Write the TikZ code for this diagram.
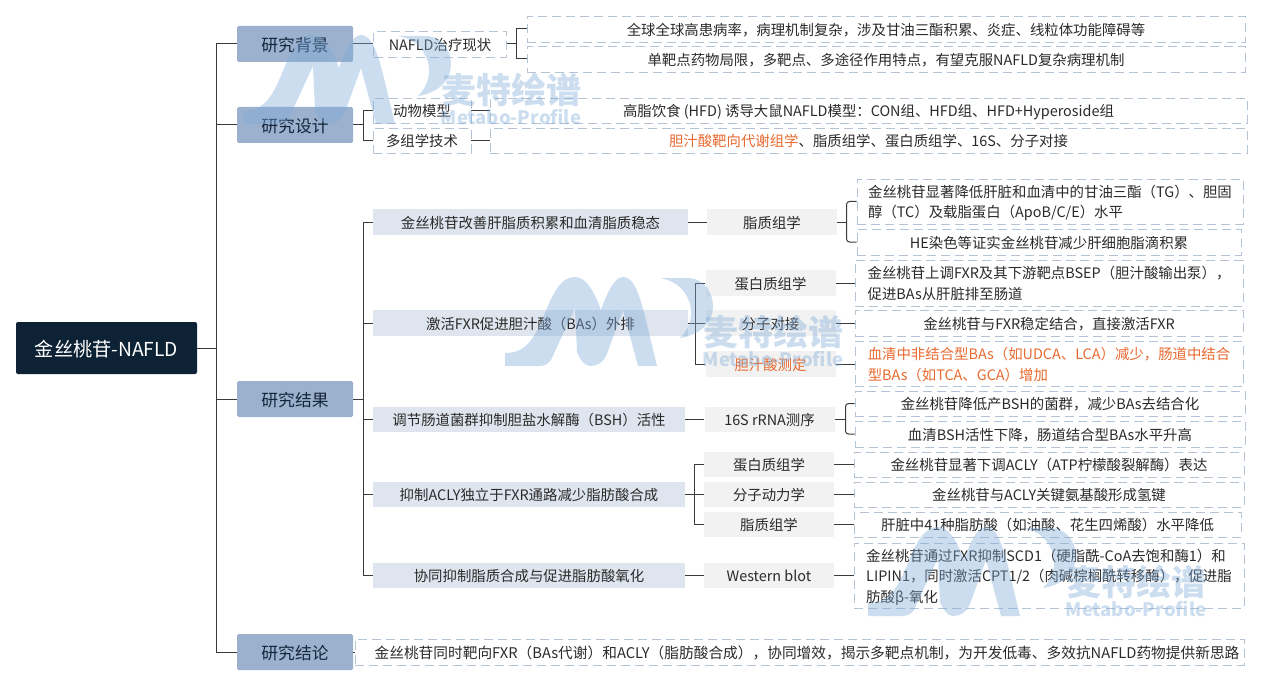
\documentclass[tikz,border=0pt]{standalone}
\usepackage{fontspec}
\setmainfont{Noto Sans CJK SC}
\definecolor{rootfill}{HTML}{0E2236}
\definecolor{secfill}{HTML}{9BB1CE}
\definecolor{secink}{HTML}{14263C}
\definecolor{resfill}{HTML}{DFE5EE}
\definecolor{toolfill}{HTML}{F2F2F2}
\definecolor{dashink}{HTML}{B4C3D5}
\definecolor{textink}{HTML}{2A2A2A}
\definecolor{linkink}{HTML}{3A3A3A}
\definecolor{hilite}{HTML}{E8692E}
\definecolor{wmblue}{HTML}{7DAAD6}
\tikzset{ root/.style = { fill = rootfill
                        , rounded corners = 2pt
                        , text = white
                        , inner sep = 0pt
                        , text depth = 0pt
                        , minimum width = 181pt
                        , minimum height = 52pt
                        , font = \fontsize{19.2}{22}\selectfont
                        },
          sec/.style = { fill = secfill
                       , rounded corners = 1.5pt
                       , text = secink
                       , inner sep = 0pt
                       , text depth = 0pt
                       , minimum width = 116pt
                       , minimum height = 36pt
                       , font = \fontsize{16.8}{20}\selectfont
                       },
          res/.style = { fill = resfill
                       , text = textink
                       , inner sep = 0pt
                       , text depth = 0pt
                       , minimum height = 25.5pt
                       , font = \fontsize{14.4}{20.5}\selectfont
                       },
          tool/.style = { res
                        , fill = toolfill
                        , minimum width = 130pt
                        },
          leaf/.style = { draw = dashink
                        , line width = 0.9pt
                        , dash pattern = on 9pt off 5pt
                        , text = textink
                        , inner sep = 0pt
                        , text depth = 0pt
                        , align = left
                        , font = \fontsize{14.4}{20.5}\selectfont
                        },
          link/.style = { draw = linkink
                        , line width = 1pt
                        },
          wm/.pic = {
              \fill[wmblue, opacity=0.4] (0,0) -- (0,-13)
                  .. controls (22,-13) and (30,-28) .. (42,-58)
                  .. controls (52,-82) and (60,-89) .. (70,-89)
                  .. controls (82,-89) and (90,-72) .. (96,-56)
                  .. controls (103,-76) and (110,-89) .. (118,-89)
                  .. controls (129,-89) and (134,-72) .. (140,-50)
                  -- (152,0) -- (133,0) -- (118,-56) -- (102,-12)
                  .. controls (98,-3) and (92,0) .. (85,0)
                  .. controls (80,0) and (75,-6) .. (72,-14)
                  -- (70,-58) -- (46,-6) .. controls (43,-2) and (40,0) .. (34,0) -- cycle;
              \fill[wmblue, opacity=0.4] (155,-88) -- (182,-88)
                  .. controls (200,-88) and (208,-72) .. (208,-60)
                  .. controls (208,-40) and (190,-30) .. (175,-28)
                  .. controls (185,-38) and (188,-50) .. (185,-62)
                  .. controls (180,-78) and (170,-85) .. (155,-88) -- cycle;
              \node[text=wmblue, text opacity=0.4, inner sep=0pt, font=\fontsize{35}{36}\selectfont\bfseries]
                  (cn) at (268,-34) {麦特绘谱};
              \node[text=wmblue, text opacity=0.4, inner sep=0pt, font=\fontsize{18.5}{20}\selectfont\bfseries]
                  (en) at (268,-7) {Metabo-Profile};
          }
        }
\begin{document}
\begin{tikzpicture}[x=1pt, y=-1pt]
    \useasboundingbox (0,0) rectangle (1263,687);
    \node[root] (root) at (106.5,348) {金丝桃苷-NAFLD};
    %first level
    \node[sec] (bg) at (295,44) {研究背景};
    \node[sec] (dsg) at (295,125) {研究设计};
    \node[sec] (out) at (295,399) {研究结果};
    \node[sec] (con) at (295,652) {研究结论};
    %background and design
    \node[leaf, minimum width=133pt, minimum height=26pt] (nafld) at (440,44) {NAFLD治疗现状};
    \node[leaf, minimum width=718pt, minimum height=26pt] (bg1) at (886,29) {全球全球高患病率，病理机制复杂，涉及甘油三酯积累、炎症、线粒体功能障碍等};
    \node[leaf, minimum width=718pt, minimum height=26pt] (bg2) at (886,59) {单靶点药物局限，多靶点、多途径作用特点，有望克服NAFLD复杂病理机制};
    \node[leaf, minimum width=98pt, minimum height=25pt] (model) at (422,110.5) {动物模型};
    \node[leaf, minimum width=98pt, minimum height=25pt] (omics) at (422,140.5) {多组学技术};
    \node[leaf, minimum width=757pt, minimum height=25pt] (model1) at (868.5,110.5) {高脂饮食 (HFD) 诱导大鼠NAFLD模型：CON组、HFD组、HFD+Hyperoside组};
    \node[leaf, minimum width=757pt, minimum height=25pt] (omics1) at (868.5,140.5) {\textcolor{hilite}{胆汁酸靶向代谢组学}、脂质组学、蛋白质组学、16S、分子对接};
    %results, second level
    \node[res, minimum width=315pt] (r1) at (530.5,222) {金丝桃苷改善肝脂质积累和血清脂质稳态};
    \node[res, minimum width=315pt] (r2) at (530.5,323) {激活FXR促进胆汁酸（BAs）外排};
    \node[res, minimum width=312pt] (r3) at (529,419.5) {调节肠道菌群抑制胆盐水解酶（BSH）活性};
    \node[res, minimum width=312pt] (r4) at (529,494.5) {抑制ACLY独立于FXR通路减少脂肪酸合成};
    \node[res, minimum width=312pt] (r5) at (529,575.5) {协同抑制脂质合成与促进脂肪酸氧化};
    %results, methods
    \node[tool] (t1) at (772,222) {脂质组学};
    \node[tool] (t2) at (770.5,283) {蛋白质组学};
    \node[tool] (t3) at (770.5,323) {分子对接};
    \node[tool, text=hilite] (t4) at (770.5,364) {胆汁酸测定};
    \node[tool] (t5) at (769.5,419.5) {16S rRNA测序};
    \node[tool] (t6) at (769,464.5) {蛋白质组学};
    \node[tool] (t7) at (769,494.5) {分子动力学};
    \node[tool] (t8) at (769,524.5) {脂质组学};
    \node[tool] (t9) at (769,575.5) {Western blot};
    %results, findings
    \node[leaf, minimum width=386pt, minimum height=45pt] (f1) at (1050,201.5) {金丝桃苷显著降低肝脏和血清中的甘油三酯（TG）、胆固\\醇（TC）及载脂蛋白（ApoB/C/E）水平};
    \node[leaf, minimum width=384pt, minimum height=26pt] (f2) at (1049,242) {HE染色等证实金丝桃苷减少肝细胞脂滴积累};
    \node[leaf, minimum width=388pt, minimum height=46pt] (f3) at (1049,283) {金丝桃苷上调FXR及其下游靶点BSEP（胆汁酸输出泵），\\促进BAs从肝脏排至肠道};
    \node[leaf, minimum width=388pt, minimum height=26pt] (f4) at (1049,323) {金丝桃苷与FXR稳定结合，直接激活FXR};
    \node[leaf, minimum width=388pt, minimum height=45pt, text=hilite] (f5) at (1049,364) {血清中非结合型BAs（如UDCA、LCA）减少，肠道中结合\\型BAs（如TCA、GCA）增加};
    \node[leaf, minimum width=390pt, minimum height=25pt] (f6) at (1050,403.5) {金丝桃苷降低产BSH的菌群，减少BAs去结合化};
    \node[leaf, minimum width=390pt, minimum height=26pt] (f7) at (1050,434) {血清BSH活性下降，肠道结合型BAs水平升高};
    \node[leaf, minimum width=390pt, minimum height=25pt] (f8) at (1049,464.5) {金丝桃苷显著下调ACLY（ATP柠檬酸裂解酶）表达};
    \node[leaf, minimum width=390pt, minimum height=25pt] (f9) at (1049,494.5) {金丝桃苷与ACLY关键氨基酸形成氢键};
    \node[leaf, minimum width=387pt, minimum height=25pt] (f10) at (1047.5,524.5) {肝脏中41种脂肪酸（如油酸、花生四烯酸）水平降低};
    \node[leaf, minimum width=390pt, minimum height=65pt] (f11) at (1049,575.5) {金丝桃苷通过FXR抑制SCD1（硬脂酰-CoA去饱和酶1）和\\LIPIN1，同时激活CPT1/2（肉碱棕榈酰转移酶），促进脂\\肪酸β-氧化};
    \node[leaf, minimum width=889pt, minimum height=26pt, font=\fontsize{14.7}{20.5}\selectfont] (con1) at (799.5,652) {\hspace*{15pt}金丝桃苷同时靶向FXR（BAs代谢）和ACLY（脂肪酸合成），协同增效，揭示多靶点机制，为开发低毒、多效抗NAFLD药物提供新思路};
    %branch points
    \coordinate (trunk) at (216,348);
    \coordinate (bgfork) at (516,44);
    \coordinate (dsgfork) at (363,125);
    \coordinate (outfork) at (363,399);
    \coordinate (r1fork) at (846.5,222);
    \coordinate (r2fork) at (695,323);
    \coordinate (r3fork) at (845.5,419.5);
    \coordinate (r4fork) at (694,494.5);
    \draw[link] (root.east) -- (trunk);
    \foreach \n in {bg,dsg,out,con} {
        \draw[link] (\n.west) -| (trunk);
    }
    \draw[link] (bg.east) -- (nafld.west);
    \draw[link] (nafld.east) -- (bgfork);
    \foreach \n in {bg1,bg2} {
        \draw[link] (\n.west) -| (bgfork);
    }
    \draw[link] (dsg.east) -- (dsgfork);
    \foreach \n in {model,omics} {
        \draw[link] (\n.west) -| (dsgfork);
    }
    \draw[link] (model.east) -- (model1.west);
    \draw[link] (omics.east) -- (omics1.west);
    \draw[link] (out.east) -- (outfork);
    \foreach \n in {r1,r2,r3,r4,r5} {
        \draw[link] (\n.west) -| (outfork);
    }
    \draw[link] (r1.east) -- (t1.west);
    \draw[link] (r3.east) -- (t5.west);
    \draw[link] (r5.east) -- (t9.west);
    \draw[link] (r2.east) -- (r2fork);
    \foreach \n in {t2,t3,t4} {
        \draw[link] (\n.west) -| (r2fork);
    }
    \draw[link] (r4.east) -- (r4fork);
    \foreach \n in {t6,t7,t8} {
        \draw[link] (\n.west) -| (r4fork);
    }
    \draw[link] (t1.east) -- (r1fork);
    \foreach \n in {f1,f2} {
        \draw[link, rounded corners=3pt] (\n.west) -| (r1fork);
    }
    \draw[link] (t5.east) -- (r3fork);
    \foreach \n in {f6,f7} {
        \draw[link, rounded corners=3pt] (\n.west) -| (r3fork);
    }
    \draw[link] (t2.east) -- (f3.west);
    \draw[link] (t3.east) -- (f4.west);
    \draw[link] (t4.east) -- (f5.west);
    \draw[link] (t6.east) -- (f8.west);
    \draw[link] (t7.east) -- (f9.west);
    \draw[link] (t8.east) -- (f10.west);
    \draw[link] (t9.east) -- (f11.west);
    \draw[link] (con.east) -- (con1.west);
    %watermarks
    \pic (wa) at (243,124) {wm};
    \pic (wb) at (505,366) {wm};
    \pic (wc) at (868,616) {wm};
\end{tikzpicture}
\end{document}
